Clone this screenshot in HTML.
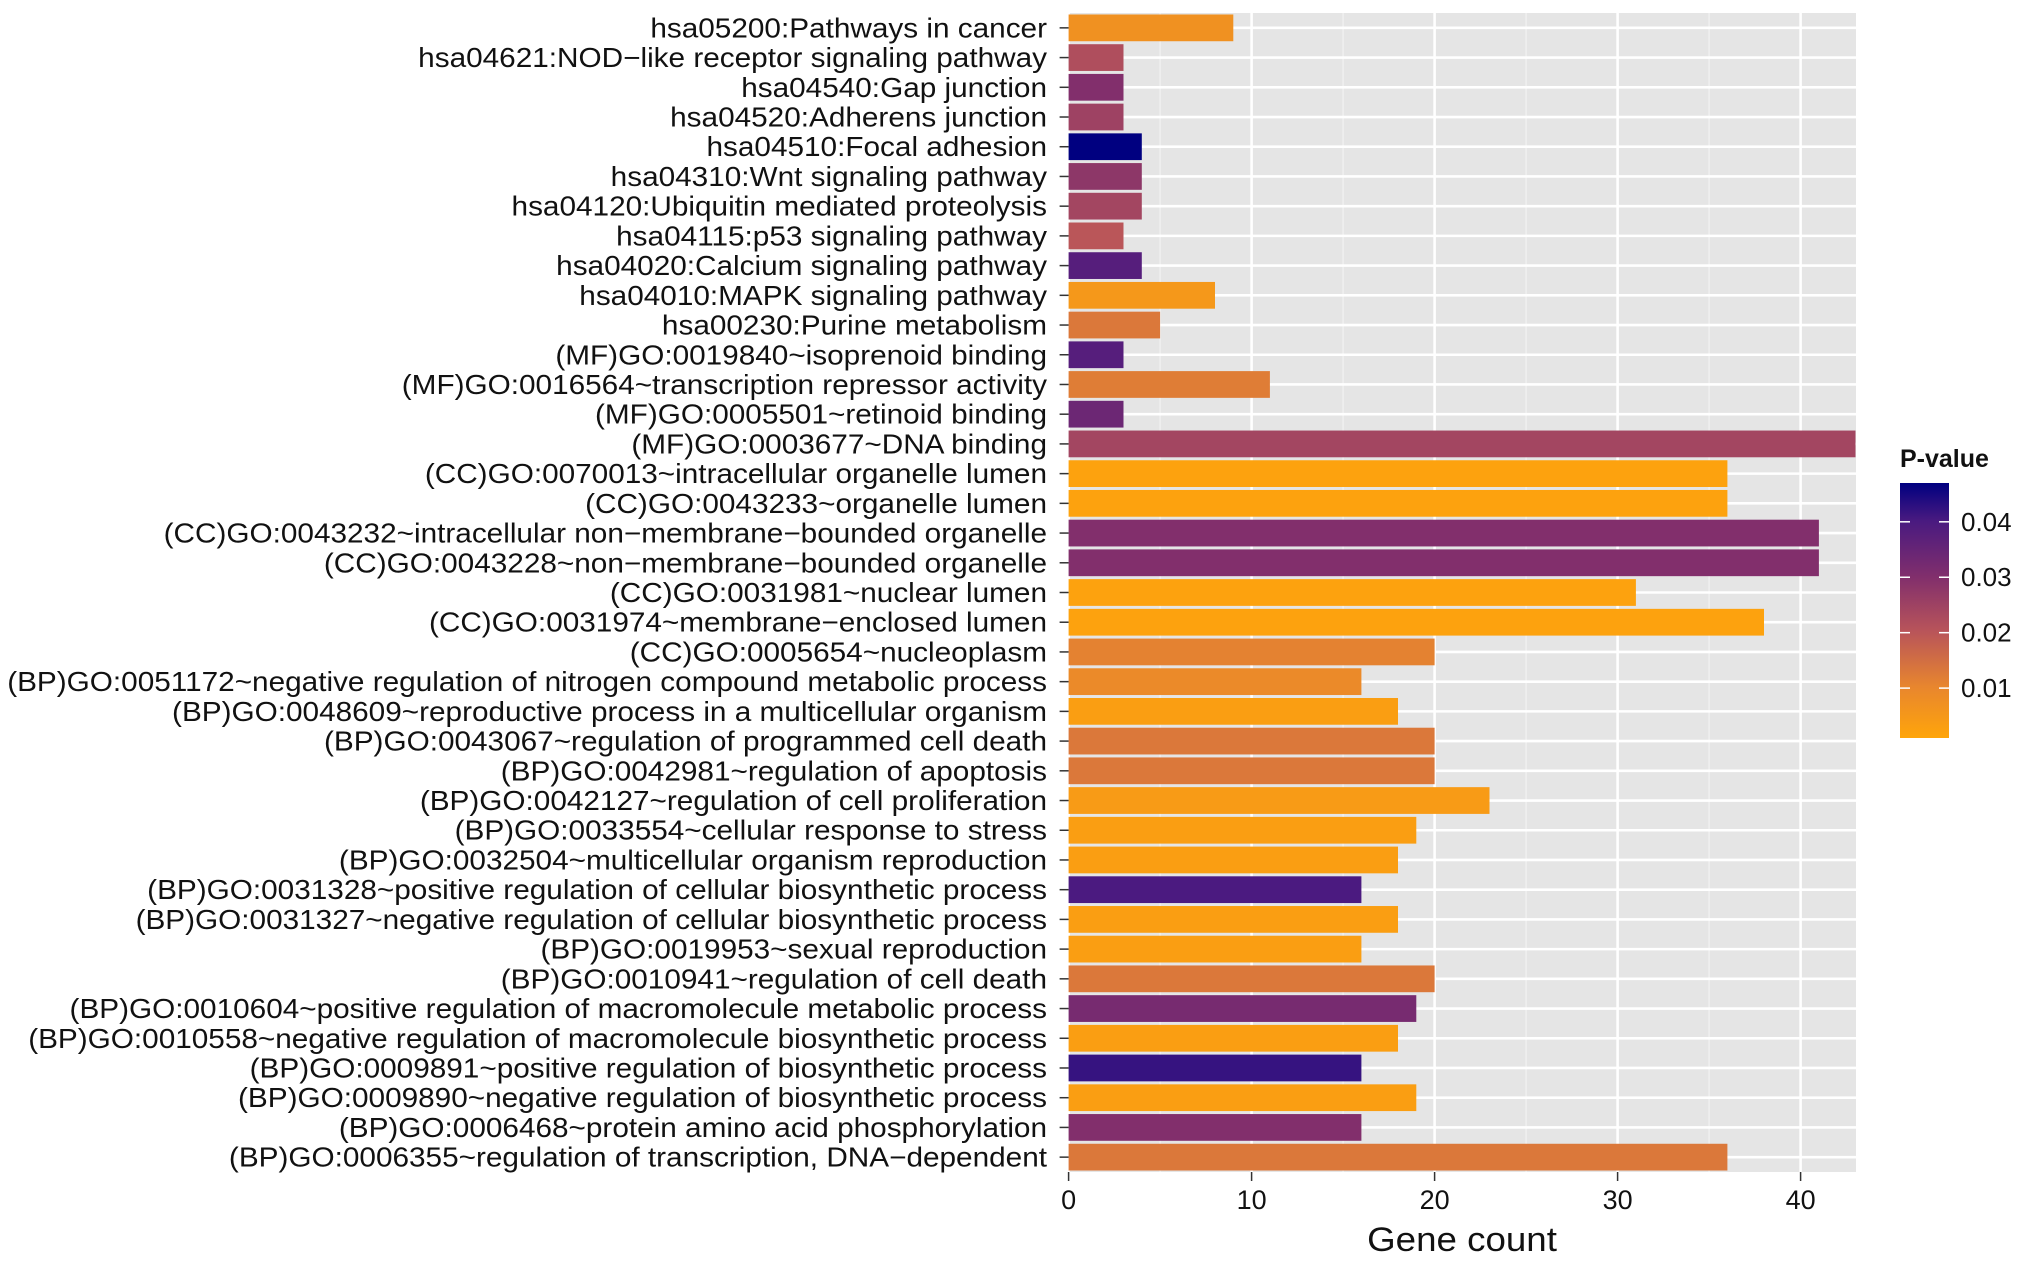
<!DOCTYPE html>
<html><head><meta charset="utf-8">
<style>
html,body{margin:0;padding:0;background:#fff;}
svg{display:block;font-family:"Liberation Sans",Arial,sans-serif;}
</style></head>
<body>
<svg id="chart" width="2031" height="1261" viewBox="0 0 2031 1261" xmlns="http://www.w3.org/2000/svg">
<defs>
<linearGradient id="pgrad" x1="0" y1="1" x2="0" y2="0">
<stop offset="0" stop-color="#FFA50A"/>
<stop offset="0.2" stop-color="#E8862E"/>
<stop offset="0.42" stop-color="#B8545A"/>
<stop offset="0.63" stop-color="#822F6C"/>
<stop offset="0.85" stop-color="#4A1A80"/>
<stop offset="1" stop-color="#000080"/>
</linearGradient>
</defs>
<rect x="1068.6" y="13" width="787.4" height="1159" fill="#e5e5e5"/>
<g id="grid"></g>
<g id="bars"></g>
<g id="ylabels"></g>
<g id="xaxis"></g>
<text transform="translate(1462,1251) scale(1.08,1)" x="0" y="0" font-size="34" text-anchor="middle" fill="#111">Gene count</text>
<g>
<text x="1900" y="467" font-size="25" font-weight="bold" fill="#111">P-value</text>
<rect x="1900" y="483" width="49" height="255" fill="url(#pgrad)"/>
<g id="legendticks"></g>
</g>
</svg>
<script>
const labels=["hsa05200:Pathways in cancer","hsa04621:NOD\u2212like receptor signaling pathway","hsa04540:Gap junction","hsa04520:Adherens junction","hsa04510:Focal adhesion","hsa04310:Wnt signaling pathway","hsa04120:Ubiquitin mediated proteolysis","hsa04115:p53 signaling pathway","hsa04020:Calcium signaling pathway","hsa04010:MAPK signaling pathway","hsa00230:Purine metabolism","(MF)GO:0019840~isoprenoid binding","(MF)GO:0016564~transcription repressor activity","(MF)GO:0005501~retinoid binding","(MF)GO:0003677~DNA binding","(CC)GO:0070013~intracellular organelle lumen","(CC)GO:0043233~organelle lumen","(CC)GO:0043232~intracellular non\u2212membrane\u2212bounded organelle","(CC)GO:0043228~non\u2212membrane\u2212bounded organelle","(CC)GO:0031981~nuclear lumen","(CC)GO:0031974~membrane\u2212enclosed lumen","(CC)GO:0005654~nucleoplasm","(BP)GO:0051172~negative regulation of nitrogen compound metabolic process","(BP)GO:0048609~reproductive process in a multicellular organism","(BP)GO:0043067~regulation of programmed cell death","(BP)GO:0042981~regulation of apoptosis","(BP)GO:0042127~regulation of cell proliferation","(BP)GO:0033554~cellular response to stress","(BP)GO:0032504~multicellular organism reproduction","(BP)GO:0031328~positive regulation of cellular biosynthetic process","(BP)GO:0031327~negative regulation of cellular biosynthetic process","(BP)GO:0019953~sexual reproduction","(BP)GO:0010941~regulation of cell death","(BP)GO:0010604~positive regulation of macromolecule metabolic process","(BP)GO:0010558~negative regulation of macromolecule biosynthetic process","(BP)GO:0009891~positive regulation of biosynthetic process","(BP)GO:0009890~negative regulation of biosynthetic process","(BP)GO:0006468~protein amino acid phosphorylation","(BP)GO:0006355~regulation of transcription, DNA\u2212dependent"];
const counts=[9,3,3,3,4,4,4,3,4,8,5,3,11,3,43,36,36,41,41,31,38,20,16,18,20,20,23,19,18,16,18,16,20,19,18,16,19,16,36];
const pvalues=[0.007,0.022,0.030,0.025,0.047,0.028,0.024,0.020,0.038,0.005,0.013,0.038,0.012,0.034,0.024,0.002,0.002,0.030,0.030,0.002,0.002,0.011,0.009,0.003,0.013,0.013,0.004,0.003,0.003,0.040,0.003,0.003,0.013,0.032,0.003,0.042,0.003,0.030,0.013];
const xTicks=[0,10,20,30,40];
const xMinor=[5,15,25,35];
const legendTicks=[0.01,0.02,0.03,0.04];

const NS="http://www.w3.org/2000/svg";
const X0=1068.6, XU=18.3, XMAX=43.1, TOP=13, BOT=1172;
const n=labels.length, step=(BOT-TOP)/n;
const xs=v=>X0+v*XU;
const ys=i=>TOP+step*(i+0.5);
const PMIN=0.001, PMAX=0.047;
const ly=p=>738-(p-PMIN)/(PMAX-PMIN)*255;
const stops=[[0,[255,165,10]],[0.2,[232,134,46]],[0.42,[184,84,90]],[0.63,[130,47,108]],[0.85,[74,26,128]],[1,[0,0,128]]];
function pcol(p){let t=Math.max(0,Math.min(1,(p-PMIN)/(PMAX-PMIN)));for(let k=1;k<stops.length;k++){if(t<=stops[k][0]){const a=stops[k-1],b=stops[k];const f=(t-a[0])/(b[0]-a[0]);const c=a[1].map((v,j)=>Math.round(v+(b[1][j]-v)*f));return `rgb(${c.join(',')})`;}}return 'rgb(0,0,128)';}
function mk(tag,attrs,parent){const e=document.createElementNS(NS,tag);for(const k in attrs)e.setAttribute(k,attrs[k]);parent.appendChild(e);return e;}

const grid=document.getElementById('grid');
xMinor.forEach(v=>{const l=mk('line',{x1:xs(v),x2:xs(v),y1:TOP,y2:BOT,stroke:'#f2f2f2','stroke-width':1.3},grid);

});
xTicks.forEach(v=>{const l=mk('line',{x1:xs(v),x2:xs(v),y1:TOP,y2:BOT,stroke:'#fff','stroke-width':2.6},grid);

});
labels.forEach((s,i)=>{const l=mk('line',{x1:X0,x2:X0+XMAX*XU,y1:ys(i),y2:ys(i),stroke:'#fff','stroke-width':2.6},grid);

});

const bars=document.getElementById('bars'), yl=document.getElementById('ylabels');
const bh=step*0.9;
labels.forEach((s,i)=>{
 const r=mk('rect',{x:xs(0),y:ys(i)-bh/2,width:xs(Math.min(counts[i],XMAX))-xs(0),height:bh,fill:pcol(pvalues[i])},bars);
 
 
 const t=mk('line',{x1:X0-9,x2:X0,y1:ys(i),y2:ys(i),stroke:'#333','stroke-width':1.5},yl);
 
 
 const tx=mk('text',{x:0,y:0,transform:`translate(1047,${ys(i)+9.5}) scale(1.082,1)`,'font-size':27.5,'text-anchor':'end',fill:'#111'},yl);
 tx.textContent=s;
 
 
});
const xa=document.getElementById('xaxis');
xTicks.forEach(v=>{
 const t=mk('line',{x1:xs(v),x2:xs(v),y1:BOT,y2:BOT+9,stroke:'#333','stroke-width':1.5},xa);
 
 
 const tx=mk('text',{x:xs(v),y:BOT+37,'font-size':27,'text-anchor':'middle',fill:'#111'},xa);
 tx.textContent=v;
 
 
});
const lt=document.getElementById('legendticks');
legendTicks.forEach(p=>{
 const a=mk('line',{x1:1900,x2:1910,y1:ly(p),y2:ly(p),stroke:'#fff','stroke-width':1.5},lt);
 
 
 const b=mk('line',{x1:1939,x2:1949,y1:ly(p),y2:ly(p),stroke:'#fff','stroke-width':1.5},lt);
 
 
 const tx=mk('text',{x:1961,y:ly(p)+9,'font-size':26,fill:'#111'},lt);
 tx.textContent=p.toFixed(2);
 
 
});
</script>
</body></html>
